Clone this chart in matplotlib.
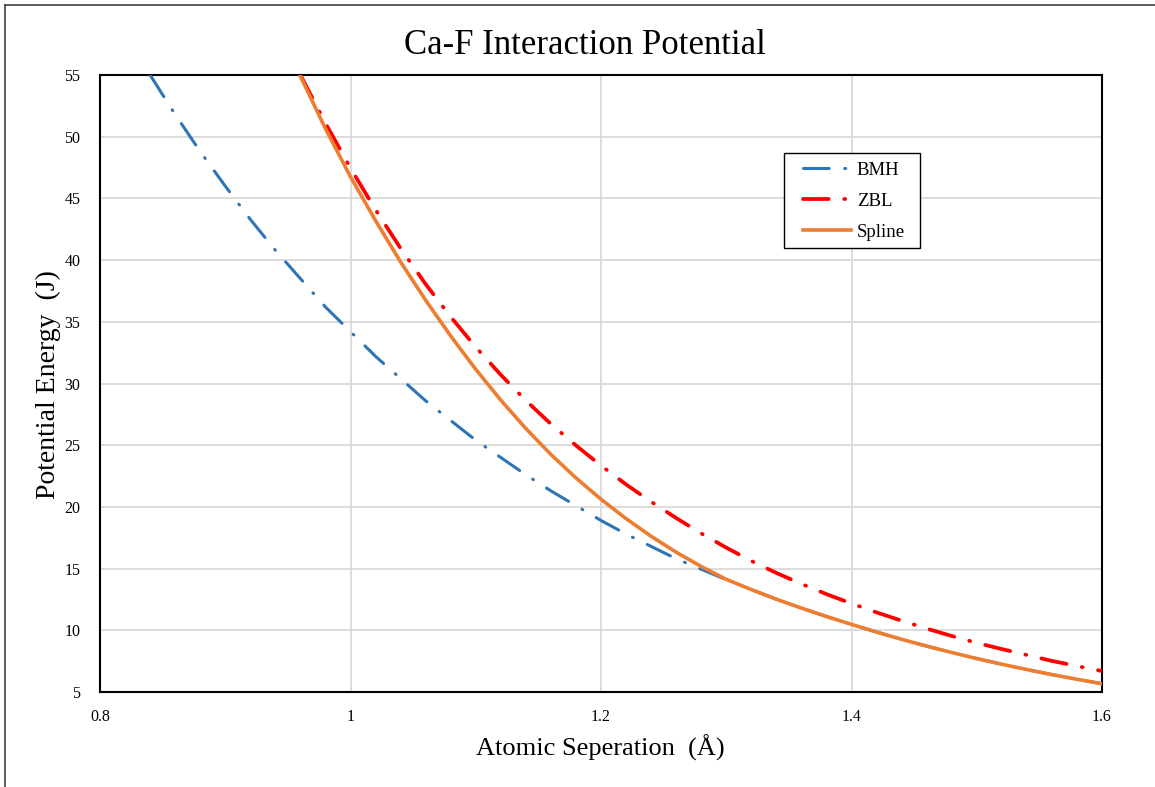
import matplotlib
matplotlib.use('Agg')
import matplotlib.pyplot as plt
from matplotlib.lines import Line2D
from matplotlib.patches import Rectangle

# Readings from the reference chart (separation in Angstrom, energy in J)
bmh_x = [0.84, 0.86, 0.88, 0.90, 0.92, 0.94, 0.96, 0.98, 1.00, 1.02, 1.04, 1.06,
         1.08, 1.10, 1.12, 1.14, 1.16, 1.18, 1.20, 1.22, 1.24, 1.26, 1.28, 1.30,
         1.32, 1.34, 1.36, 1.38, 1.40, 1.42, 1.44, 1.46, 1.48, 1.50, 1.52, 1.54,
         1.56, 1.58, 1.60]
bmh_y = [55.0, 51.8, 48.8, 46.0, 43.3, 40.8, 38.5, 36.2, 34.2, 32.2, 30.4, 28.6,
         27.0, 25.4, 24.0, 22.6, 21.3, 20.1, 18.9, 17.8, 16.8, 15.8, 14.95, 14.1,
         13.3, 12.52, 11.80, 11.12, 10.48, 9.86, 9.27, 8.72, 8.20, 7.71, 7.25, 6.82,
         6.41, 6.03, 5.67]

zbl_x = [0.96, 0.98, 1.00, 1.02, 1.04, 1.06, 1.08, 1.10, 1.12, 1.14, 1.16, 1.18,
         1.20, 1.22, 1.24, 1.26, 1.28, 1.30, 1.32, 1.34, 1.36, 1.38, 1.40, 1.42,
         1.44, 1.46, 1.48, 1.50, 1.52, 1.54, 1.56, 1.58, 1.60]
zbl_y = [55.0, 51.1, 47.45, 44.08, 40.95, 38.05, 35.40, 32.95, 30.70, 28.62, 26.72,
         24.98, 23.35, 21.82, 20.42, 19.10, 17.85, 16.70, 15.62, 14.65, 13.76, 12.93,
         12.17, 11.45, 10.78, 10.14, 9.54, 8.98, 8.48, 8.00, 7.52, 7.10, 6.70]

spline_x = [0.96, 0.98, 1.00, 1.02, 1.04, 1.06, 1.08, 1.10, 1.12, 1.14, 1.16, 1.18,
            1.20, 1.22, 1.24, 1.26, 1.28, 1.30, 1.32, 1.34, 1.36, 1.38, 1.40, 1.42,
            1.44, 1.46, 1.48, 1.50, 1.52, 1.54, 1.56, 1.58, 1.60]
spline_y = [54.9, 50.65, 46.75, 43.2, 39.85, 36.75, 33.85, 31.15, 28.65, 26.35, 24.25,
            22.35, 20.62, 19.05, 17.62, 16.33, 15.17, 14.13, 13.30, 12.52, 11.80, 11.12,
            10.48, 9.86, 9.27, 8.72, 8.20, 7.71, 7.25, 6.82, 6.41, 6.03, 5.67]

x_ticks = [0.8, 1.0, 1.2, 1.4, 1.6]
x_tick_labels = ['0.8', '1', '1.2', '1.4', '1.6']
y_ticks = [5, 10, 15, 20, 25, 30, 35, 40, 45, 50, 55]

plt.rcParams['font.family'] = ['Liberation Serif', 'DejaVu Serif']
plt.rcParams['lines.scale_dashes'] = False

fig = plt.figure(figsize=(11.55, 7.87), dpi=100)
ax = fig.add_axes([100 / 1155, 1 - 692 / 787, 1002 / 1155, 617 / 787])

dash_dot = (18.5, 11.2, 0.7, 11.2)
ax.plot(bmh_x, bmh_y, color='#2E75B6', lw=2.2, dashes=dash_dot,
        dash_capstyle='round', label='BMH', zorder=3)
ax.plot(zbl_x, zbl_y, color='#FF0000', lw=2.7, dashes=dash_dot,
        dash_capstyle='round', label='ZBL', zorder=4)
ax.plot(spline_x, spline_y, color='#ED7D31', lw=2.6, label='Spline', zorder=5)

ax.set_xlim(0.8, 1.6)
ax.set_ylim(5, 55)
ax.set_xticks(x_ticks)
ax.set_xticklabels(x_tick_labels)
ax.set_yticks(y_ticks)
ax.tick_params(length=0, labelsize=11.5)
ax.tick_params(axis='x', pad=12)
ax.tick_params(axis='y', pad=14)
ax.grid(True, color='#D9D9D9', lw=1.3)
ax.set_axisbelow(True)
for sp in ax.spines.values():
    sp.set_color('black')
    sp.set_linewidth(1.5)

# legend box drawn separately so the padding matches the reference
ax.add_patch(Rectangle((684 / 1002, 1 - 173 / 617), 136 / 1002, 95 / 617,
                       transform=ax.transAxes, facecolor='white',
                       edgecolor='black', lw=1.0, zorder=6))
leg = ax.legend(loc='upper left', bbox_to_anchor=(695 / 1002, 1 - 78 / 617),
                borderaxespad=0, fontsize=13.5, handlelength=2.55,
                handletextpad=0.3, labelspacing=0.75, borderpad=0.45,
                frameon=False)
leg.set_zorder(7)

fig.text(585 / 1155, 1 - 45 / 787, 'Ca-F Interaction Potential', fontsize=25,
         ha='center', va='center')
fig.text(600 / 1155, 1 - 748 / 787, 'Atomic Seperation  (Å)', fontsize=19,
         ha='center', va='center')
fig.text(48 / 1155, 1 - 385 / 787, 'Potential Energy  (J)', fontsize=20,
         ha='center', va='center', rotation=90)

# outer chart frame (top and left edges visible in the reference)
fig.add_artist(Line2D([5 / 1155, 5 / 1155], [0, 1 - 5 / 787], color='#404040',
                      lw=1.2, transform=fig.transFigure))
fig.add_artist(Line2D([5 / 1155, 1], [1 - 5 / 787, 1 - 5 / 787], color='#404040',
                      lw=1.2, transform=fig.transFigure))

fig.savefig('out.png', dpi=100)
